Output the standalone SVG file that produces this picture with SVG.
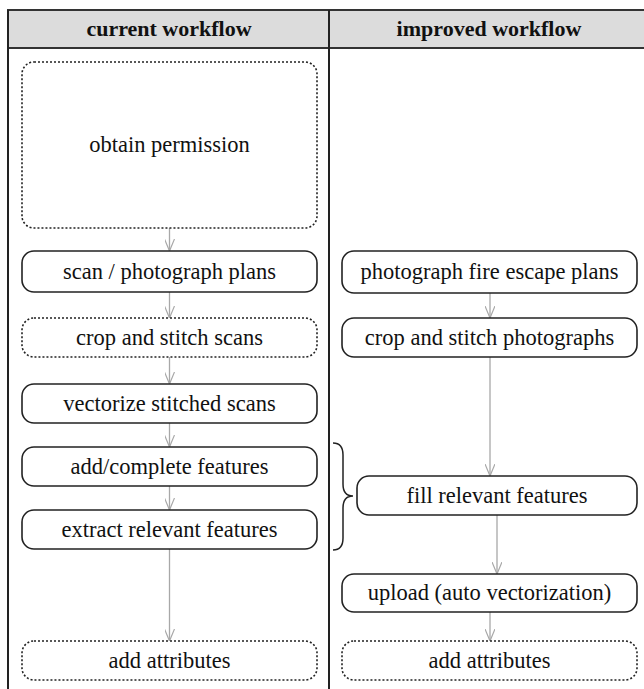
<svg xmlns="http://www.w3.org/2000/svg" width="644" height="689" viewBox="0 0 644 689">
<style>
.t{font-family:"Liberation Serif","Times New Roman",serif;font-size:22.5px;fill:#111;text-anchor:middle}
.h{font-family:"Liberation Serif","Times New Roman",serif;font-size:22px;font-weight:bold;fill:#111;text-anchor:middle}
.n{fill:#fff;stroke:#222;stroke-width:1.6}
.d{fill:#fff;stroke:#222;stroke-width:1.6;stroke-dasharray:2 2}
.c{fill:none;stroke:#a8a8a8;stroke-width:1.3;marker-end:url(#a)}
.b{fill:none;stroke:#222;stroke-width:1.5}
</style>
<defs>
<marker id="a" viewBox="0 0 12 10" refX="12" refY="5" markerWidth="12" markerHeight="10" markerUnits="userSpaceOnUse" orient="auto">
<path d="M0,0 L12,5 L0,10" fill="none" stroke="#a8a8a8" stroke-width="1.2"/>
</marker>
</defs>
<rect width="644" height="689" fill="#fff"/>
<g id="table">
<rect x="8" y="10" width="640" height="38" fill="#dcdcdc" stroke="#333" stroke-width="2"/>
<line x1="8" y1="10" x2="8" y2="689" stroke="#222" stroke-width="2"/>
<line x1="329" y1="10" x2="329" y2="689" stroke="#222" stroke-width="2"/>
<text class="h" x="169" y="36">current workflow</text>
<text class="h" x="489" y="36">improved workflow</text>
</g>
<g id="connectors">
<path class="c" d="M169.5,228 V251"/>
<path class="c" d="M169.5,292 V318"/>
<path class="c" d="M169.5,357 V384"/>
<path class="c" d="M169.5,423 V447"/>
<path class="c" d="M169.5,486 V510"/>
<path class="c" d="M169.5,549 V641"/>
<path class="c" d="M490,293 V318"/>
<path class="c" d="M490,357 V476"/>
<path class="c" d="M497,515 V574"/>
<path class="c" d="M490,612 V641"/>
</g>
<g id="bracket">
<path class="b" d="M333,443 Q343,443 343,455 V484 Q343,496 353,496 Q343,496 343,508 V538 Q343,550 333,550"/>
</g>
<g id="obtain-permission">
<rect class="d" x="22" y="62" width="295" height="166" rx="12"/>
<text class="t" x="169.5" y="152">obtain permission</text>
</g>
<g id="scan-photograph">
<rect class="n" x="22" y="251" width="295" height="41" rx="12"/>
<text class="t" x="169.5" y="279">scan / photograph plans</text>
</g>
<g id="crop-stitch-scans">
<rect class="d" x="22" y="318" width="295" height="39" rx="12"/>
<text class="t" x="169.5" y="345">crop and stitch scans</text>
</g>
<g id="vectorize">
<rect class="n" x="22" y="384" width="295" height="39" rx="12"/>
<text class="t" x="169.5" y="411">vectorize stitched scans</text>
</g>
<g id="add-complete">
<rect class="n" x="22" y="447" width="295" height="39" rx="12"/>
<text class="t" x="169.5" y="474">add/complete features</text>
</g>
<g id="extract">
<rect class="n" x="22" y="510" width="295" height="39" rx="12"/>
<text class="t" x="169.5" y="537">extract relevant features</text>
</g>
<g id="add-attributes-left">
<rect class="d" x="22" y="641" width="295" height="39" rx="12"/>
<text class="t" x="169.5" y="668">add attributes</text>
</g>
<g id="photograph-fire">
<rect class="n" x="342" y="251" width="295" height="42" rx="12"/>
<text class="t" x="489.5" y="279">photograph fire escape plans</text>
</g>
<g id="crop-stitch-photos">
<rect class="n" x="342" y="318" width="295" height="39" rx="12"/>
<text class="t" x="489.5" y="345">crop and stitch photographs</text>
</g>
<g id="fill-relevant">
<rect class="n" x="357" y="476" width="280" height="39" rx="12"/>
<text class="t" x="497" y="503">fill relevant features</text>
</g>
<g id="upload">
<rect class="n" x="342" y="574" width="295" height="38" rx="12"/>
<text class="t" x="489.5" y="600">upload (auto vectorization)</text>
</g>
<g id="add-attributes-right">
<rect class="d" x="342" y="641" width="295" height="39" rx="12"/>
<text class="t" x="489.5" y="668">add attributes</text>
</g>
</svg>
